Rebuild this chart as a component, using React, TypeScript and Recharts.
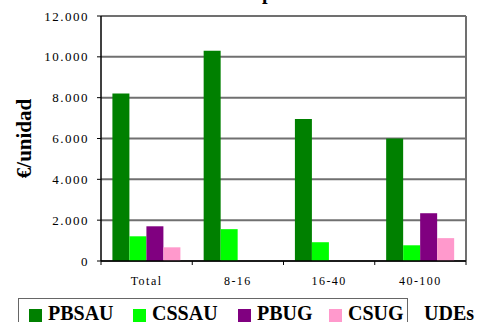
import { Bar, BarChart, CartesianGrid, XAxis, YAxis } from 'recharts';

const categories = ['Total', '8-16', '16-40', '40-100'];
const pbsau = [8200, 10300, 6950, 6000];
const cssau = [1210, 1560, 920, 770];
const pbug = [1700, 0, 0, 2340];
const csug = [670, 0, 0, 1120];
const yTicks = [0, 2000, 4000, 6000, 8000, 10000, 12000];

const series = [
  { key: 'PBSAU', values: pbsau, color: '#008000' },
  { key: 'CSSAU', values: cssau, color: '#00ff00' },
  { key: 'PBUG', values: pbug, color: '#800080' },
  { key: 'CSUG', values: csug, color: '#ff99cc' },
];

const data = categories.map((name, i) => {
  const row: Record<string, string | number> = { name };
  series.forEach((s) => {
    row[s.key] = s.values[i];
  });
  return row;
});

const W = 477;
const H = 322;
const MARGIN = { top: 16, right: 11, left: 0, bottom: 0 };
const Y_AXIS_W = 101;
const BAND = (W - MARGIN.left - MARGIN.right - Y_AXIS_W) / categories.length;
const FONT = '"Liberation Serif", serif';

// 12000 -> "12.000"
const fmt = (v: number) => String(v).replace(/\B(?=(\d{3})+(?!\d))/g, '.');

// category label plus tick marks on the band edges (not centres)
function CategoryTick(props: any) {
  const { x, y, payload, index } = props;
  const half = BAND / 2;
  return (
    <g>
      <line x1={x - half} x2={x - half} y1={y} y2={y + 4} stroke="#000" />
      {index === categories.length - 1 && (
        <line x1={x + half} x2={x + half} y1={y} y2={y + 4} stroke="#000" />
      )}
      <text
        x={x}
        y={y + 24}
        textAnchor="middle"
        style={{ fontFamily: FONT, fontSize: 12, letterSpacing: 1.5 }}
        fill="#000"
      >
        {payload.value}
      </text>
    </g>
  );
}

export default function App() {
  return (
    <div
      style={{
        position: 'absolute',
        left: 0,
        top: 0,
        width: W,
        height: H,
        overflow: 'hidden',
        background: '#fff',
        fontFamily: FONT,
      }}
    >
      <div
        style={{
          position: 'absolute',
          left: 262,
          top: -18,
          fontSize: 20,
          fontWeight: 'bold',
          lineHeight: '20px',
        }}
      >
        p
      </div>
      <BarChart
        width={W}
        height={H}
        data={data}
        margin={MARGIN}
        barCategoryGap="12.5%"
        barGap={0}
        style={{ fontFamily: FONT }}
      >
        <CartesianGrid
          stroke="#707070"
          strokeWidth={2}
          verticalCoordinatesGenerator={({ offset }: any) => [offset.left + offset.width]}
        />
        <XAxis
          dataKey="name"
          interval={0}
          height={61}
          tickSize={0}
          tickMargin={0}
          tickLine={false}
          axisLine={{ stroke: '#000', strokeWidth: 1.5 }}
          tick={<CategoryTick />}
        />
        <YAxis
          width={Y_AXIS_W}
          domain={[0, 12000]}
          ticks={yTicks}
          interval={0}
          tickFormatter={fmt}
          tickSize={4}
          tickMargin={8}
          axisLine={{ stroke: '#000', strokeWidth: 1.5 }}
          tickLine={{ stroke: '#000' }}
          tick={{ fontSize: 13, fill: '#000', fontFamily: FONT, letterSpacing: 1.5 }}
          label={{
            content: ({ viewBox }: any) => {
              const cy = viewBox.y + viewBox.height / 2;
              return (
                <text
                  x={24}
                  y={cy}
                  transform={`rotate(-90 24 ${cy})`}
                  textAnchor="middle"
                  dominantBaseline="central"
                  style={{ fontFamily: FONT, fontSize: 21, fontWeight: 'bold' }}
                  fill="#000"
                >
                  €/unidad
                </text>
              );
            },
          }}
        />
        {series.map((s) => (
          <Bar key={s.key} dataKey={s.key} fill={s.color} isAnimationActive={false} />
        ))}
      </BarChart>
      <div
        style={{
          position: 'absolute',
          left: 18,
          top: 298,
          width: 390,
          height: 40,
          border: '1.5px solid #666',
          boxSizing: 'border-box',
        }}
      />
      {series.map((s, i) => (
        <div
          key={s.key}
          style={{
            position: 'absolute',
            left: [29, 133, 238, 329][i],
            top: 301,
            display: 'flex',
            alignItems: 'center',
            fontSize: 20,
            fontWeight: 'bold',
            lineHeight: '24px',
            whiteSpace: 'nowrap',
          }}
        >
          <span
            style={{
              display: 'inline-block',
              width: 13,
              height: 13,
              background: s.color,
              marginRight: 6,
              marginTop: 4,
            }}
          />
          {s.key}
        </div>
      ))}
      <div
        style={{
          position: 'absolute',
          left: 424,
          top: 301,
          fontSize: 20,
          fontWeight: 'bold',
          lineHeight: '24px',
        }}
      >
        UDEs
      </div>
    </div>
  );
}
